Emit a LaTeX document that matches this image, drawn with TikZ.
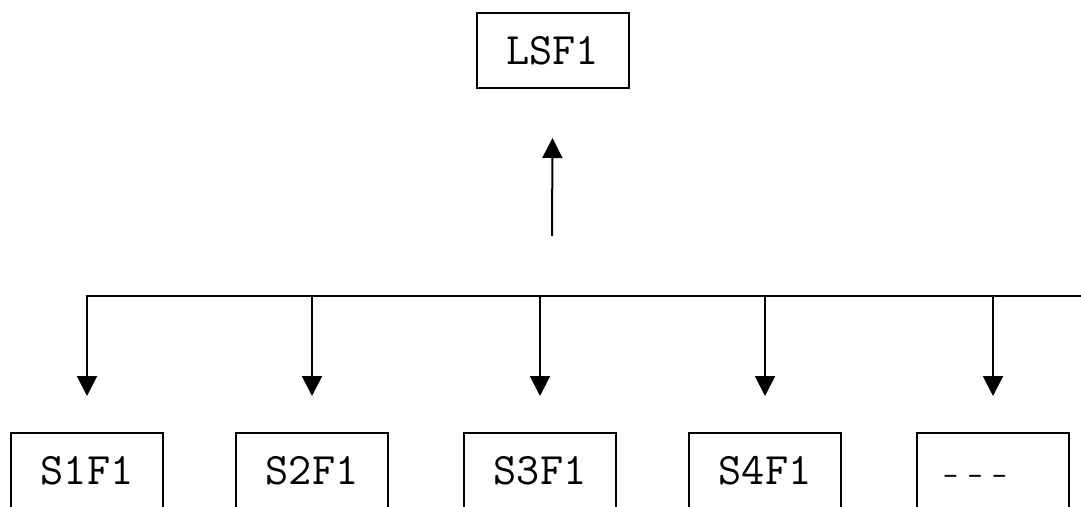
\documentclass[tikz,border=0pt]{standalone}
\usepackage{fontspec}
\usetikzlibrary{arrows.meta}
\tikzset{
  fbox/.style={draw, line width=2pt, minimum width=152pt, minimum height=75pt, inner sep=0pt,
    font=\ttfamily\fontsize{45}{45}\selectfont},
  conn/.style={line width=2pt, -{Triangle[width=20pt,length=20pt]}},
  bus/.style={line width=2pt}
}
\begin{document}
\begin{tikzpicture}[x=1pt,y=-1pt]
\useasboundingbox (0,0) rectangle (1081,506);
\node[fbox] (lsf) at (552.5,50.5) {LSF1};
\node[fbox] (s1) at (87,470.5) {S1F1};
\node[fbox] (s2) at (312,470.5) {S2F1};
\node[fbox] (s3) at (540,470.5) {S3F1};
\node[fbox] (s4) at (765,470.5) {S4F1};
\node[fbox] (s5) at (993,470.5) {};
\node[font=\ttfamily\fontsize{30}{30}\selectfont, inner sep=0pt, anchor=base] (dots) at (975,485) {{-}\kern9pt{-}\kern9pt{-}};
\coordinate (up) at (552,236);
\coordinate (busL) at (86,296);
\coordinate (busR) at (1081,296);
\draw[bus] (busL) -- (busR);
\draw[conn] (up) -- ([yshift=-49pt]lsf.south);
\foreach \n in {s1,s2,s3,s4,s5}{
  \draw[conn] (busL -| \n.north) -- ([yshift=36pt]\n.north);
}
\end{tikzpicture}
\end{document}
